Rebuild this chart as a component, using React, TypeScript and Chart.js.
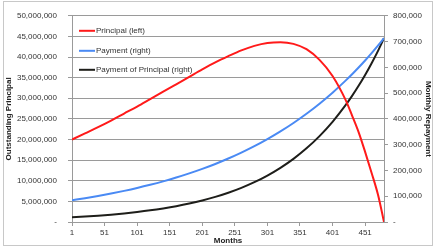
import React, { useEffect, useRef } from "react";
import { Chart, registerables } from "chart.js";

Chart.register(...registerables);

const months = [1, 21, 41, 61, 81, 101, 121, 141, 161, 181, 201, 221, 241, 261, 281, 301, 321, 341, 361, 381, 401, 421, 431, 441, 451, 461, 471, 480];
const principal = [20000000, 21500000, 23000000, 24600000, 26300000, 28000000, 29800000, 31600000, 33400000, 35200000, 37000000, 38700000, 40200000, 41600000, 42700000, 43400000, 43600000, 43200000, 41900000, 39300000, 35400000, 29600000, 25800000, 21800000, 17000000, 11900000, 6500000, 0];
const payment = [84600, 92500, 101100, 110500, 120800, 132000, 144300, 157700, 172400, 188500, 206000, 225200, 246200, 269100, 294100, 321500, 351400, 384100, 419900, 458900, 501700, 548400, 573300, 599400, 626700, 655200, 685000, 713100];
const principalPayment = [18000, 21000, 24500, 28500, 33300, 38800, 45200, 52800, 61500, 71700, 83600, 97500, 113700, 132600, 154600, 180300, 210200, 245100, 285800, 333200, 388500, 453100, 489200, 528300, 570400, 616000, 665100, 713000];
const xTickValues = [1, 51, 101, 151, 201, 251, 301, 351, 401, 451];
const seriesLabels = ["Principal (left)", "Payment (right)", "Payment of Principal (right)"];
const seriesColors = ["#ff1a1a", "#4a8af4", "#1e1e1a"];
const axisTitles = { x: "Months", left: "Outstanding Principal", right: "Monthly Repayment" };

const FONT = "'Liberation Sans', Arial, sans-serif";
const GRID = "#9a9a9a";
const TEXT = "#333333";

const fmt = (v: number) => (v === 0 ? "-" : v.toLocaleString("en-US"));

const legendPlugin = {
  id: "insideLegend",
  afterDraw(chart: any) {
    const { ctx, chartArea } = chart;
    const rows = [15, 35, 54];
    ctx.save();
    ctx.font = `8px ${FONT}`;
    ctx.textBaseline = "middle";
    ctx.textAlign = "left";
    chart.data.datasets.forEach((ds: any, i: number) => {
      const y = chartArea.top + rows[i];
      const x0 = chartArea.left + 7;
      ctx.strokeStyle = ds.borderColor;
      ctx.lineWidth = 2;
      ctx.beginPath();
      ctx.moveTo(x0, y);
      ctx.lineTo(x0 + 16, y);
      ctx.stroke();
      ctx.fillStyle = TEXT;
      ctx.fillText(ds.label, x0 + 17, y);
    });
    ctx.restore();
  },
};

const framePlugin = {
  id: "frame",
  beforeDraw(chart: any) {
    const { ctx, width, height } = chart;
    ctx.save();
    ctx.fillStyle = "#ffffff";
    ctx.fillRect(0, 0, width, height);
    ctx.strokeStyle = "#c8c8c8";
    ctx.lineWidth = 1;
    ctx.strokeRect(3.5, 1.5, 429, 244);
    ctx.restore();
  },
};

export default function App() {
  const ref = useRef<HTMLCanvasElement | null>(null);

  useEffect(() => {
    document.body.style.margin = "0";
    if (!ref.current) return;
    const mk = (vals: number[]) => months.map((m, i) => ({ x: m, y: vals[i] }));
    const chart = new Chart(ref.current, {
      type: "line",
      data: {
        datasets: [
          { label: seriesLabels[0], data: mk(principal), yAxisID: "yL", borderColor: seriesColors[0], borderWidth: 2, pointRadius: 0, cubicInterpolationMode: "monotone", fill: false },
          { label: seriesLabels[1], data: mk(payment), yAxisID: "yR", borderColor: seriesColors[1], borderWidth: 2, pointRadius: 0, cubicInterpolationMode: "monotone", fill: false },
          { label: seriesLabels[2], data: mk(principalPayment), yAxisID: "yR", borderColor: seriesColors[2], borderWidth: 2, pointRadius: 0, cubicInterpolationMode: "monotone", fill: false },
        ],
      },
      options: {
        animation: false,
        responsive: false,
        layout: { padding: { top: 14, left: 0, right: 0, bottom: 0 } },
        plugins: { legend: { display: false }, tooltip: { enabled: false } },
        scales: {
          x: {
            type: "linear",
            min: 1,
            max: 480,
            afterBuildTicks: (s: any) => {
              s.ticks = xTickValues.map((v) => ({ value: v }));
            },
            afterFit: (s: any) => {
              s.height = 27;
            },
            grid: { drawOnChartArea: false, drawTicks: true, tickLength: 4, color: GRID },
            border: { display: true, color: GRID },
            ticks: { autoSkip: false, maxRotation: 0, padding: 2, color: TEXT, font: { family: FONT, size: 8 }, callback: (v: any) => String(v) },
            title: { display: true, text: axisTitles.x, color: "#222", font: { family: FONT, size: 8, weight: "bold" }, padding: { top: 0, bottom: 3 } },
          },
          yL: {
            type: "linear",
            position: "left",
            min: 0,
            max: 50000000,
            afterFit: (s: any) => {
              s.width = 72;
            },
            ticks: { stepSize: 5000000, padding: 11, color: TEXT, font: { family: FONT, size: 8 }, callback: (v: any) => fmt(Number(v)) },
            grid: { color: GRID, tickLength: 4 },
            border: { display: true, color: GRID },
            title: { display: true, text: axisTitles.left, color: "#222", font: { family: FONT, size: 8, weight: "bold" }, padding: { top: 4, bottom: 0 } },
          },
          yR: {
            type: "linear",
            position: "right",
            min: 0,
            max: 800000,
            afterFit: (s: any) => {
              s.width = 52;
            },
            ticks: { stepSize: 100000, padding: 5, color: TEXT, font: { family: FONT, size: 8 }, callback: (v: any) => fmt(Number(v)) },
            grid: { drawOnChartArea: false, color: GRID, tickLength: 4 },
            border: { display: true, color: GRID },
            title: { display: true, text: axisTitles.right, color: "#222", font: { family: FONT, size: 8, weight: "bold" }, padding: { top: 3, bottom: 0 } },
          },
        },
      },
      plugins: [framePlugin, legendPlugin],
    } as any);
    return () => chart.destroy();
  }, []);

  return <canvas ref={ref} width={436} height={249} style={{ display: "block" }} />;
}
